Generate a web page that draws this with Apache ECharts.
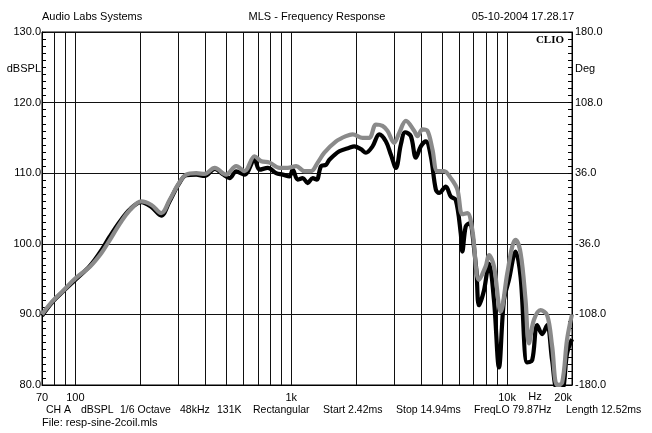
<!DOCTYPE html>
<html>
<head>
<meta charset="utf-8">
<script src="https://cdn.jsdelivr.net/npm/echarts@6/dist/echarts.min.js"></script>
<style>
  html, body { margin: 0; padding: 0; background: #fff; }
  #chart { width: 652px; height: 433px; }
</style>
</head>
<body>
<div id="chart"></div>
<script>
// frequency grid (Hz) and axis labels
const gridFreqs = [80, 90, 100, 200, 300, 400, 500, 600, 700, 800, 900, 1000,
  2000, 3000, 4000, 5000, 6000, 7000, 8000, 9000, 10000];
const labelFreqs = [70, 100, 1000, 10000, 20000];
const labelTexts = ['70', '100', '1k', '10k', '20k'];

// gray trace
const grayFreq = [70, 78, 88, 100, 117, 132, 144, 161, 179, 202, 225, 250, 273, 299, 326, 363, 397, 442, 499, 556,
  608, 676, 726, 793, 882, 963, 1054, 1151, 1236, 1326, 1424, 1613, 1794, 1925, 2142, 2300, 2469, 2649, 2794, 3000,
  3164, 3399, 3712, 3845, 4054, 4276, 4510, 4757, 5110, 5488, 5884, 6206, 6547, 6903, 7413, 7960, 8246, 8700, 9345, 10023,
  10571, 10955, 11556, 12187, 12627, 13316, 14300, 15339, 16178, 17065, 17998, 18984, 20000];
const grayDb = [90.0, 91.8, 93.4, 95.1, 96.8, 98.7, 100.5, 102.9, 104.8, 106.0, 105.5, 104.35, 106.2, 108.4, 109.8, 110.0, 109.9, 110.75, 109.8, 111.0,
  110.3, 112.4, 111.7, 111.5, 110.75, 110.75, 111.0, 110.3, 110.3, 111.5, 112.9, 114.5, 115.25, 115.5, 115.0, 115.0, 116.9, 116.7, 116.0, 114.3,
  115.7, 117.4, 116.0, 115.25, 116.2, 116.0, 113.4, 110.3, 110.3, 109.3, 107.7, 104.2, 104.35, 102.0, 94.9, 96.8, 98.4, 96.8, 90.4, 95.8,
  99.6, 100.55, 98.7, 92.0, 85.9, 89.2, 90.6, 89.9, 85.5, 80.0, 80.3, 86.5, 90.0];

// black trace
const blackFreq = [70, 78, 88, 100, 117, 132, 144, 161, 179, 202, 225, 250, 273, 299, 326, 363, 397, 442, 480, 518,
  556, 608, 676, 713, 779, 851, 913, 981, 1016, 1071, 1131, 1192, 1257, 1312, 1375, 1450, 1502, 1670, 1858, 1960,
  2104, 2219, 2381, 2557, 2747, 2897, 3055, 3222, 3373, 3583, 3780, 3986, 4204, 4434, 4677, 4844, 5201, 5488, 5786, 6101,
  6206, 6435, 6665, 7182, 7413, 7819, 8246, 8700, 9177, 9674, 10206, 10955, 11556, 12397, 13076, 13790, 14546, 15339, 16178, 17065,
  17998, 18984, 20000];
const blackDb = [89.8, 91.7, 93.3, 94.9, 96.9, 99.1, 101.0, 103.2, 104.9, 105.9, 105.2, 104.0, 106.0, 108.3, 109.7, 109.8, 109.6, 110.6, 109.9, 109.3,
  110.27, 109.8, 111.9, 110.5, 110.75, 110.0, 109.8, 109.55, 110.5, 109.1, 109.3, 108.6, 109.3, 109.1, 111.0, 111.2, 111.9, 113.1, 113.6, 113.8,
  113.4, 112.9, 113.8, 115.5, 114.5, 112.6, 110.75, 114.1, 115.8, 115.25, 112.2, 113.8, 114.5, 112.4, 107.7, 107.2, 108.1, 106.7, 106.2, 101.5,
  98.9, 102.45, 102.9, 96.8, 91.3, 93.4, 97.2, 92.0, 82.5, 92.0, 94.9, 98.9, 95.3, 83.2, 83.5, 88.5, 87.2, 88.5, 83.5, 79.5,
  79.5, 84.5, 86.5];

// footer info fields and their left x
const infoTexts = ['CH A', 'dBSPL', '1/6 Octave', '48kHz', '131K', 'Rectangular', 'Start 2.42ms', 'Stop 14.94ms', 'FreqLO 79.87Hz', 'Length 12.52ms'];
const infoX = [46, 81, 120, 180, 217, 253, 323, 396, 474, 566];

const FONT = '"Liberation Sans", Arial, sans-serif';
const lg = Math.log10;
const toPoints = (fs, ys) => fs.map((f, i) => [lg(f), ys[i]]);

const txt = (text, x, y, align, font) => ({
  type: 'text', x: x, y: y, silent: true,
  style: { text: text, font: font || ('11px ' + FONT), fill: '#000', align: align || 'left', verticalAlign: 'middle' }
});

const chart = echarts.init(document.getElementById('chart'));
chart.setOption({
  animation: false,
  backgroundColor: '#fff',
  grid: { left: 42, right: 80, top: 32, bottom: 48, show: true, borderColor: '#000', borderWidth: 1 },
  xAxis: {
    type: 'value',
    min: lg(70),
    max: lg(20000),
    axisLine: { show: true, lineStyle: { color: '#000' } },
    axisTick: { show: false, customValues: gridFreqs.map(lg) },
    splitLine: { show: true, lineStyle: { color: '#111', width: 1 } },
    axisLabel: {
      customValues: labelFreqs.map(lg),
      showMinLabel: true, showMaxLabel: true, hideOverlap: false,
      alignMaxLabel: 'right',
      margin: 7, color: '#000', fontSize: 11, fontFamily: FONT,
      formatter: v => {
        const i = labelFreqs.findIndex(f => Math.abs(lg(f) - v) < 1e-6);
        return i >= 0 ? labelTexts[i] : '';
      }
    }
  },
  yAxis: [
    {
      type: 'value', min: 80, max: 130, interval: 10, position: 'left',
      axisLine: { show: true, lineStyle: { color: '#000' } },
      axisTick: { show: true, inside: true, length: 4, lineStyle: { color: '#000' } },
      minorTick: { show: true, splitNumber: 10, length: 4, lineStyle: { color: '#000' } },
      splitLine: { show: true, lineStyle: { color: '#111', width: 1 } },
      axisLabel: { margin: 1, color: '#000', fontSize: 11, fontFamily: FONT, formatter: v => v.toFixed(1) }
    },
    {
      // phase axis, -180..180 deg, offset by 180 so ticks start at zero
      type: 'value', min: 0, max: 360, interval: 72, position: 'right',
      axisLine: { show: true, lineStyle: { color: '#000' } },
      axisTick: { show: true, inside: true, length: 4, lineStyle: { color: '#000' } },
      minorTick: { show: true, splitNumber: 10, length: 4, lineStyle: { color: '#000' } },
      splitLine: { show: false },
      axisLabel: { margin: 3, color: '#000', fontSize: 11, fontFamily: FONT, formatter: v => (v - 180).toFixed(1) }
    }
  ],
  series: [
    {
      name: 'black', type: 'line', data: toPoints(blackFreq, blackDb),
      showSymbol: false, smooth: 0.35, clip: true,
      lineStyle: { color: '#000', width: 4.2 }
    },
    {
      name: 'gray', type: 'line', data: toPoints(grayFreq, grayDb),
      showSymbol: false, smooth: 0.35, clip: true,
      lineStyle: { color: '#8a8a8a', width: 4.2 }
    }
  ],
  graphic: [
    txt('Audio Labs Systems', 42, 17),
    txt('MLS - Frequency Response', 317, 17, 'center'),
    txt('05-10-2004 17.28.17', 574, 17, 'right'),
    txt('CLIO', 564, 40, 'right', 'bold 11px "Liberation Serif", serif'),
    txt('dBSPL', 41, 69, 'right'),
    txt('Deg', 575, 69),
    txt('Hz', 535, 397, 'center'),
    txt('File: resp-sine-2coil.mls', 42, 423)
  ].concat(infoTexts.map((t, i) => txt(t, infoX[i], 410, 'left', '10.5px ' + FONT)))
});
</script>
</body>
</html>
